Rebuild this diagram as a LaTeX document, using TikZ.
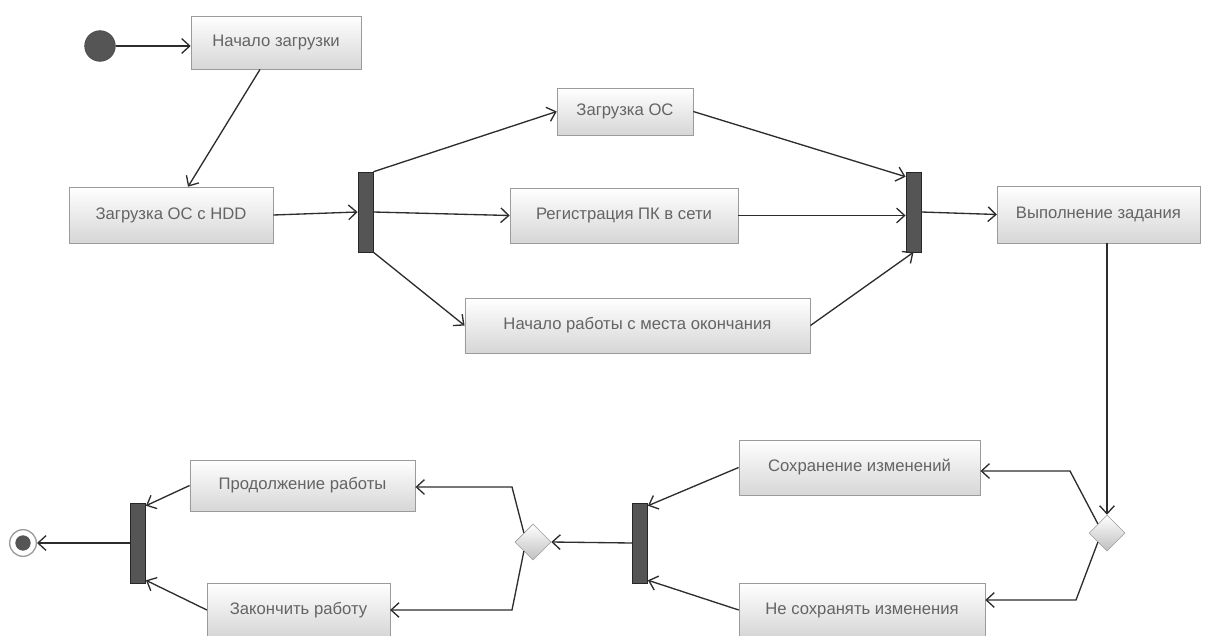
\documentclass[tikz,border=0pt]{standalone}
\usepackage{fontspec}
\setmainfont{Liberation Sans}
\usetikzlibrary{arrows.meta,shapes.geometric,calc}

\definecolor{boxline}{RGB}{155,155,155}
\definecolor{boxtext}{RGB}{100,100,100}
\definecolor{barfill}{RGB}{85,85,85}
\definecolor{flowline}{RGB}{45,45,45}

\tikzset{
  action/.style={draw=boxline, top color=white, bottom color=black!16, text=boxtext,
    font=\fontsize{12.5}{14}\selectfont, inner sep=0pt},
  syncbar/.style={draw=black!85, fill=barfill, minimum width=11.5pt, minimum height=60pt, inner sep=0pt},
  choice/.style={diamond, draw=boxline, top color=white, bottom color=black!25,
    minimum width=27pt, minimum height=27pt, inner sep=0pt},
  flow/.style={draw=flowline, line width=1pt, -{Straight Barb[length=6pt,width=11pt,line width=1pt]}}
}

\begin{document}
\begin{tikzpicture}[x=0.75pt,y=0.75pt,yscale=-1,xscale=1]
		\useasboundingbox (0,0) rectangle (1205,635);
		% start / end
		\node (start) [circle, draw=black!75, fill=barfill, minimum size=23pt, inner sep=0pt] at (100,46) {};
		\node (finish) [circle, draw=boxline, fill=white, minimum size=20pt, inner sep=0pt, line width=1pt] at (23,543) {};
		\node (finishdot) [circle, fill=barfill, minimum size=11.5pt, inner sep=0pt] at (23,543) {};
		% actions, top part
		\node (nachalo) [action, minimum width=127.5pt, minimum height=40pt] at (276,42.5) {Начало загрузки};
		\node (hdd) [action, minimum width=153pt, minimum height=42pt] at (171,215) {Загрузка ОС с HDD};
		\node (zagr) [action, minimum width=102pt, minimum height=35pt] at (625,111.5) {Загрузка ОС};
		\node (reg) [action, minimum width=171pt, minimum height=41pt] at (624,215.5) {Регистрация ПК в сети};
		\node (mesto) [action, minimum width=259pt, minimum height=41pt] at (637.5,325.5) {Начало работы с места окончания};
		\node (vypoln) [action, minimum width=152pt, minimum height=43pt] at (1098.5,214.5) {Выполнение задания};
		% actions, bottom part
		\node (sohr) [action, minimum width=181pt, minimum height=41pt] at (859.5,467.5) {Сохранение изменений};
		\node (nesohr) [action, minimum width=184.5pt, minimum height=40pt] at (862,610) {Не сохранять изменения};
		\node (prodol) [action, minimum width=169pt, minimum height=38pt] at (302.5,485.5) {Продолжение работы};
		\node (zakon) [action, minimum width=137pt, minimum height=40pt] at (298.5,610) {Закончить работу};
		% bars and choices
		\node (fork1) [syncbar] at (365.5,212) {};
		\node (join1) [syncbar] at (913.5,212) {};
		\node (join2) [syncbar] at (640,543) {};
		\node (join3) [syncbar] at (138,543) {};
		\node (ch1) [choice] at (1107,533) {};
		\node (ch2) [choice] at (533,542) {};
		\coordinate (k1) at (1070,471);
		\coordinate (k2) at (1076,600);
		\coordinate (k3) at (512,487);
		\coordinate (k4) at (512,610);

		\draw [flow] (start.east) -- (start.east -| nachalo.west);
		\draw [flow] ($(nachalo.south)+(-16,0)$) -- ($(hdd.north)+(17,0)$);
		\draw [flow] (hdd.east) -- (fork1.west);
		\draw [flow] (fork1.north east) -- (zagr.west);
		\draw [flow] (fork1.east) -- (reg.west);
		\draw [flow] (fork1.south east) -- (mesto.west);
		\draw [flow] (zagr.east) -- ($(join1.north west)+(0,5)$);
		\draw [flow] (reg.east) -- (reg.east -| join1.west);
		\draw [flow] (mesto.east) -- (join1.south);
		\draw [flow] (join1.east) -- (vypoln.west);
		\draw [flow] (vypoln.south -| ch1.north) -- (ch1.north);
		\draw [flow] (ch1.north west) -- (k1) -- (k1 -| sohr.east);
		\draw [flow] (ch1.south west) -- (k2) -- (k2 -| nesohr.east);
		\draw [flow] (sohr.west) -- ($(join2.north east)+(0,3)$);
		\draw [flow] (nesohr.west) -- ($(join2.south east)+(0,-3)$);
		\draw [flow] (join2.west) -- (ch2.east);
		\draw [flow] (ch2.north west) -- (k3) -- (k3 -| prodol.east);
		\draw [flow] (ch2.south west) -- (k4) -- (k4 -| zakon.east);
		\draw [flow] (prodol.west) -- ($(join3.north east)+(0,3)$);
		\draw [flow] (zakon.west) -- ($(join3.south east)+(0,-3)$);
		\draw [flow] (join3.west) -- (finish.east);
		\end{tikzpicture}
\end{document}
